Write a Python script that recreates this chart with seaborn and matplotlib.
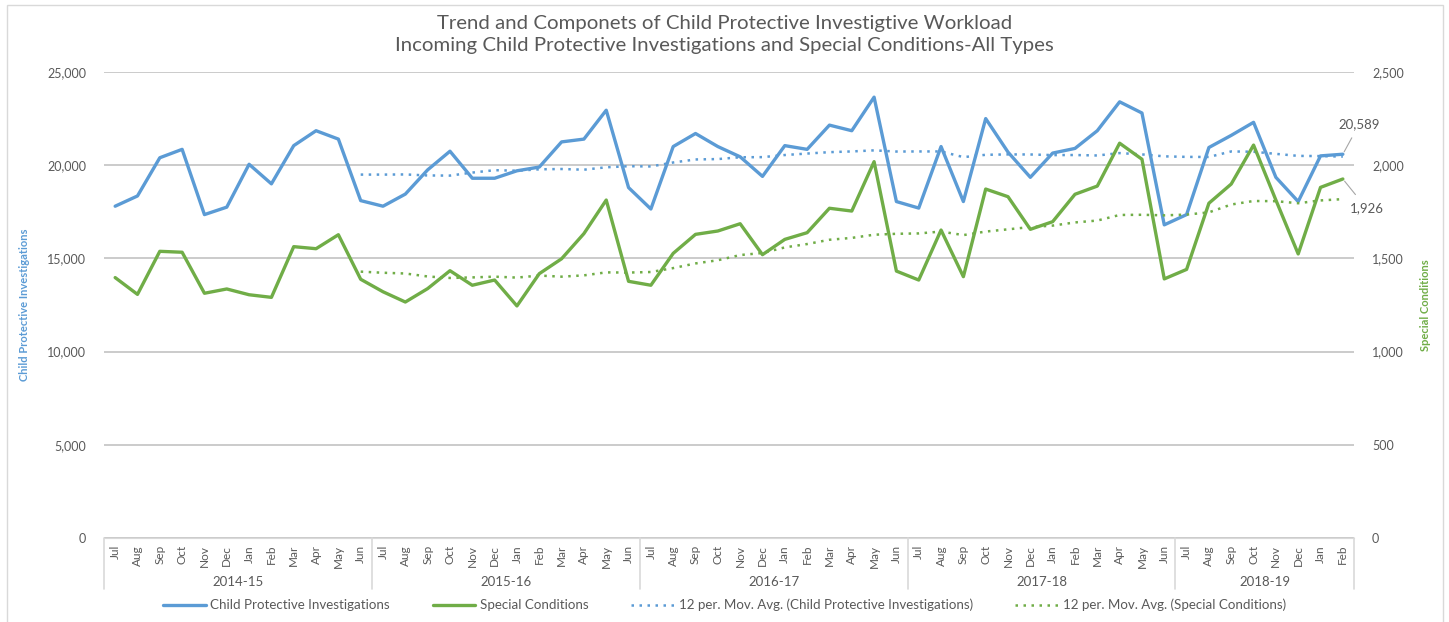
import numpy as np
import pandas as pd
import matplotlib
matplotlib.use("Agg")
import matplotlib.pyplot as plt
import matplotlib.transforms as mtransforms
from matplotlib.patches import Rectangle
import seaborn as sns

# ---- data ----
months = ["Jul", "Aug", "Sep", "Oct", "Nov", "Dec", "Jan", "Feb", "Mar", "Apr", "May", "Jun"] * 4 + \
         ["Jul", "Aug", "Sep", "Oct", "Nov", "Dec", "Jan", "Feb"]
fiscal_years = ["2014-15", "2015-16", "2016-17", "2017-18", "2018-19"]
fy_lengths = [12, 12, 12, 12, 8]

investigations = [17800, 18350, 20400, 20850, 17350, 17750, 20050, 19000, 21050, 21850, 21400, 18100,
                  17800, 18450, 19750, 20750, 19300, 19300, 19700, 19900, 21250, 21400, 22950, 18800,
                  17650, 21000, 21700, 21000, 20450, 19400, 21050, 20850, 22150, 21850, 23650, 18050,
                  17700, 21000, 18050, 22500, 20700, 19350, 20650, 20900, 21850, 23400, 22800, 16800,
                  17350, 20950, 21600, 22300, 19350, 18050, 20500, 20589]

special_conditions = [1397, 1307, 1538, 1533, 1313, 1336, 1305, 1291, 1563, 1552, 1627, 1388,
                      1321, 1266, 1338, 1434, 1356, 1384, 1245, 1418, 1498, 1633, 1813, 1377,
                      1356, 1527, 1629, 1647, 1686, 1520, 1602, 1638, 1769, 1754, 2019, 1432,
                      1384, 1652, 1402, 1872, 1831, 1656, 1697, 1844, 1888, 2118, 2032, 1390,
                      1441, 1796, 1899, 2108, 1813, 1524, 1881, 1926]

# 12 period moving average trendlines (start at Jun 2015)
inv_mov_avg = [19496, 19496, 19504, 19450, 19442, 19604, 19733, 19704, 19779, 19796, 19758, 19888, 19946,
               19933, 20146, 20308, 20329, 20425, 20433, 20546, 20625, 20700, 20738, 20796, 20733,
               20738, 20738, 20433, 20558, 20579, 20575, 20542, 20546, 20521, 20650, 20579, 20475,
               20446, 20442, 20738, 20721, 20608, 20500, 20488, 20462]
sc_mov_avg = [1429, 1423, 1419, 1403, 1395, 1398, 1402, 1397, 1408, 1402, 1409, 1425, 1424,
              1427, 1448, 1473, 1490, 1518, 1529, 1559, 1577, 1600, 1610, 1627, 1632,
              1634, 1644, 1625, 1644, 1656, 1668, 1676, 1693, 1703, 1733, 1734, 1731,
              1735, 1747, 1789, 1808, 1807, 1796, 1811, 1818]

BLUE = "#5B9BD5"
GREEN = "#70AD47"
GREY_TXT = "#595959"

sns.set_style("white")
plt.rcParams["font.family"] = ["Lato", "DejaVu Sans"]

x = np.arange(len(months))
x_ma = x[len(x) - len(inv_mov_avg):]

fig = plt.figure(figsize=(14.49, 6.22), dpi=100)
ax = fig.add_axes([104 / 1449, 84 / 622, 1250 / 1449, 466 / 622])
ax2 = ax.twinx()

sns.lineplot(x=x, y=investigations, ax=ax, color=BLUE, lw=2.4, label="Child Protective Investigations", legend=False)
sns.lineplot(x=x_ma, y=inv_mov_avg, ax=ax, color=BLUE, lw=1.8, ls=(0, (1, 2.2)),
             label="12 per. Mov. Avg. (Child Protective Investigations)", legend=False)
sns.lineplot(x=x, y=special_conditions, ax=ax2, color=GREEN, lw=2.4, label="Special Conditions", legend=False)
sns.lineplot(x=x_ma, y=sc_mov_avg, ax=ax2, color=GREEN, lw=1.8, ls=(0, (1, 2.2)),
             label="12 per. Mov. Avg. (Special Conditions)", legend=False)

ax.set_xlim(-0.5, len(x) - 0.5)
ax.set_ylim(0, 25000)
ax2.set_ylim(0, 2500)
ax.set_yticks(np.arange(0, 25001, 5000))
ax2.set_yticks(np.arange(0, 2501, 500))
ax.set_yticklabels([f"{v:,}" for v in range(0, 25001, 5000)])
ax2.set_yticklabels([f"{v:,}" for v in range(0, 2501, 500)])
ax.yaxis.grid(True, color="#BDBDBD", lw=1.1)
ax.set_axisbelow(True)

for a in (ax, ax2):
    for s in a.spines.values():
        s.set_visible(False)
    a.tick_params(axis="y", length=0, labelsize=9, labelcolor=GREY_TXT, pad=13)
ax.spines["bottom"].set_visible(True)
ax.spines["bottom"].set_color("#D9D9D9")

ax.set_xticks(x)
ax.set_xticklabels(months, rotation=90, fontsize=8.5, color=GREY_TXT)
ax.tick_params(axis="x", length=0, pad=5)

# fiscal year groups under the month labels
trans = mtransforms.blended_transform_factory(ax.transData, ax.transAxes)
start = 0
bounds = [-0.5]
for fy, n in zip(fiscal_years, fy_lengths):
    ax.text(start + (n - 1) / 2, -0.094, fy, transform=trans, ha="center", va="center",
            fontsize=9.5, color=GREY_TXT)
    start += n
    bounds.append(start - 0.5)
for b in bounds:
    ax.plot([b, b], [0, -0.11], transform=trans, color="#D9D9D9", lw=1.2, clip_on=False)

ax.set_ylabel("Child Protective Investigations", color=BLUE, fontsize=8, fontweight="bold", labelpad=12)
ax2.set_ylabel("Special Conditions", color=GREEN, fontsize=8, fontweight="bold", labelpad=12)

fig.text(0.5, 1 - 24 / 622, "Trend and Componets of Child Protective Investigtive Workload",
         ha="center", va="center", fontsize=14.7, color=GREY_TXT)
fig.text(0.5, 1 - 46 / 622, "Incoming Child Protective Investigations and Special Conditions-All Types",
         ha="center", va="center", fontsize=14.7, color=GREY_TXT)

# data labels on last points
ax.annotate(f"{investigations[-1]:,}", xy=(x[-1], investigations[-1]), xytext=(12, 22),
            textcoords="offset points", ha="center", va="center", fontsize=9.5, color=GREY_TXT,
            arrowprops=dict(arrowstyle="-", color="#A6A6A6", lw=0.8, shrinkA=4, shrinkB=2))
ax2.annotate(f"{special_conditions[-1]:,}", xy=(x[-1], special_conditions[-1]), xytext=(17, -21),
             textcoords="offset points", ha="center", va="center", fontsize=9.5, color=GREY_TXT,
             arrowprops=dict(arrowstyle="-", color="#A6A6A6", lw=0.8, shrinkA=4, shrinkB=2))

h1, l1 = ax.get_legend_handles_labels()
h2, l2 = ax2.get_legend_handles_labels()
handles = [h1[0], h2[0], h1[1], h2[1]]
labels = [l1[0], l2[0], l1[1], l2[1]]
leg = fig.legend(handles, labels, loc="center", bbox_to_anchor=(0.5, 17 / 622), ncol=4, frameon=False,
                 fontsize=9.6, handlelength=3.2, handletextpad=0.35, columnspacing=3.2)
for t in leg.get_texts():
    t.set_color(GREY_TXT)

fig.patches.append(Rectangle((7 / 1449, -0.01), 1436 / 1449, 1 - 5 / 622 + 0.01, transform=fig.transFigure,
                             fill=False, edgecolor="#D9D9D9", lw=1))

fig.savefig("out.png", dpi=100)
